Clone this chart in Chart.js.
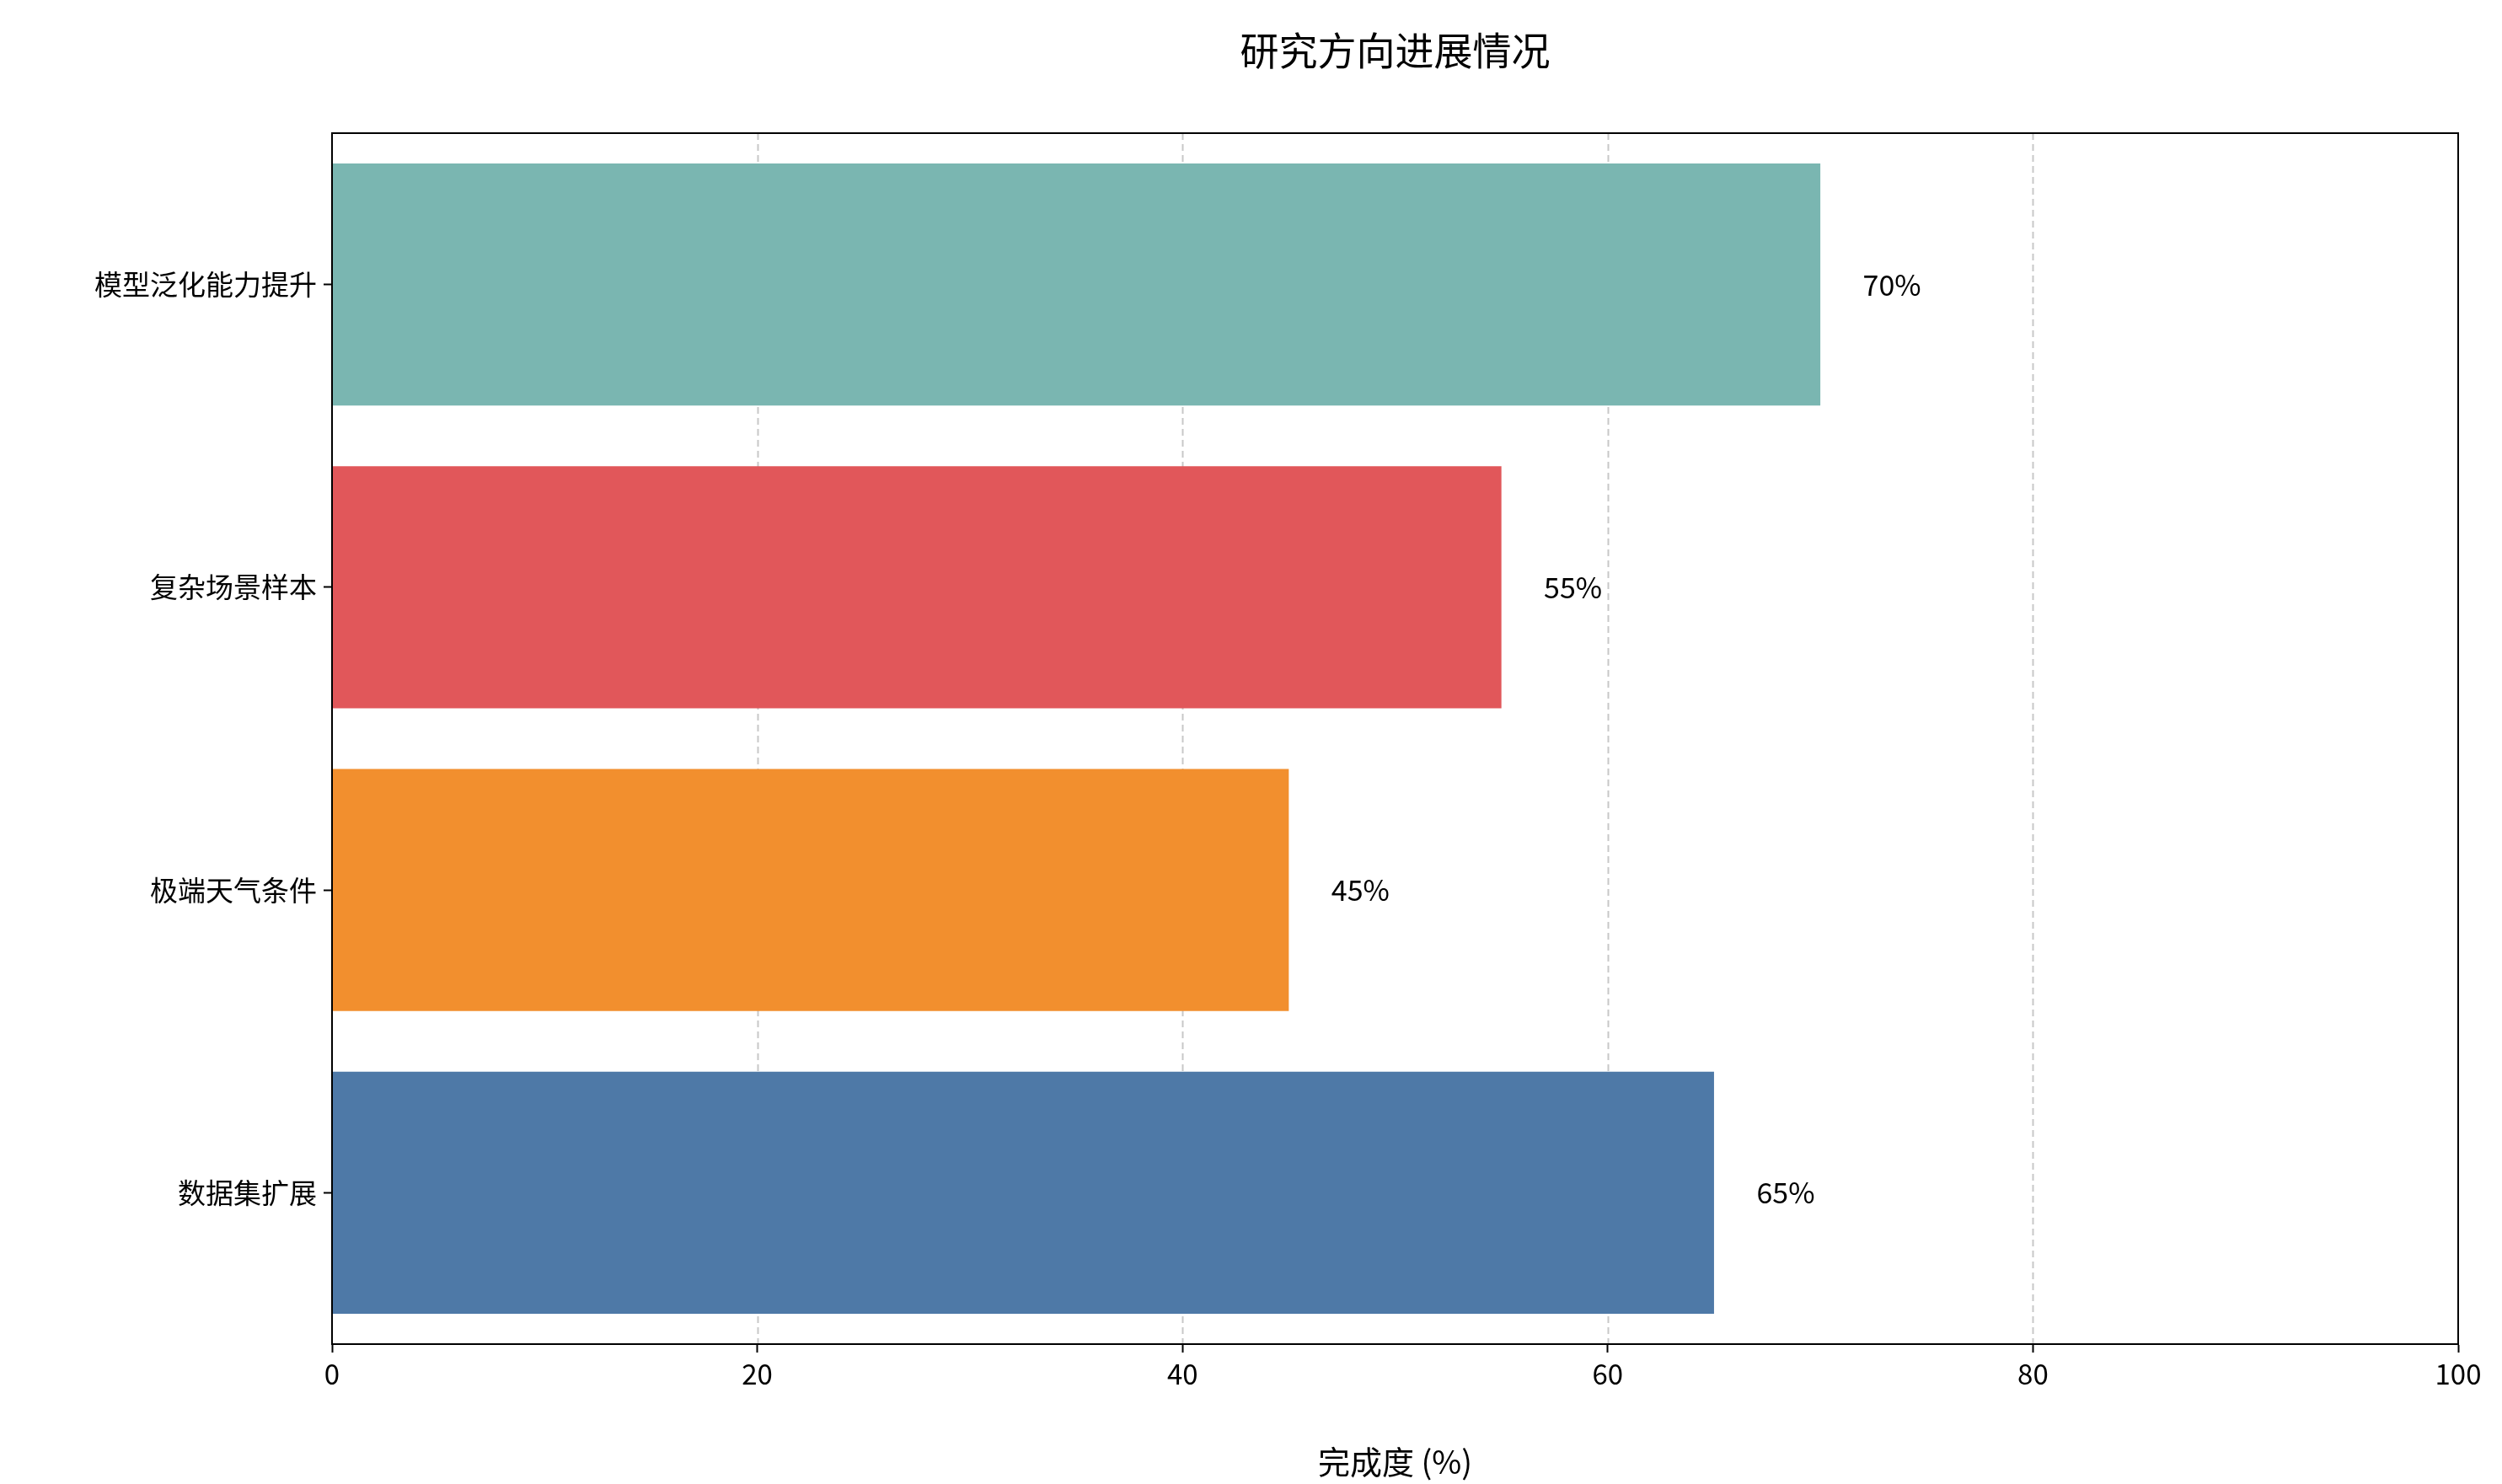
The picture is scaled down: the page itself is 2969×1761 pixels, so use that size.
<!DOCTYPE html>
<html>
<head>
<meta charset="utf-8">
<script src="https://cdn.jsdelivr.net/npm/chart.js@4/dist/chart.umd.min.js"></script>
<style>
  html, body { margin: 0; padding: 0; background: #fff; }
  #wrap { width: 2969px; height: 1761px; }
</style>
</head>
<body>
<div id="wrap"><canvas id="chart" width="2969" height="1761"></canvas></div>
<script>
'use strict';

// ---- Data (top to bottom) ----
const categories = ['模型泛化能力提升', '复杂场景样本', '极端天气条件', '数据集扩展'];
const progress   = [70, 55, 45, 65];
const barColors  = ['#7ab6b1', '#e1575a', '#f28f2e', '#4e79a7'];
const xTicks     = [0, 20, 40, 60, 80, 100];
const chartTitle = '研究方向进展情况';

const FONT = "'Noto Sans CJK SC', 'Noto Sans', sans-serif";

// title, dashed vertical grid, bar value labels, frame
const extras = {
  id: 'extras',
  beforeDatasetsDraw(chart) {
    const { ctx, chartArea, scales } = chart;
    ctx.save();
    ctx.strokeStyle = '#c8c8c8';
    ctx.lineWidth = 2;
    ctx.setLineDash([8, 5]);
    xTicks.slice(1, -1).forEach(v => {
      const x = Math.round(scales.x.getPixelForValue(v)) + 0.5;
      ctx.beginPath();
      ctx.moveTo(x, chartArea.top);
      ctx.lineTo(x, chartArea.bottom);
      ctx.stroke();
    });
    ctx.restore();
  },
  afterDatasetsDraw(chart) {
    const { ctx, scales, chartArea: a } = chart;
    ctx.save();
    ctx.fillStyle = '#000';
    ctx.font = `34px ${FONT}`;
    ctx.textBaseline = 'middle';
    progress.forEach((v, i) => {
      ctx.fillText(v + '%', scales.x.getPixelForValue(v + 2), scales.y.getPixelForValue(i));
    });
    ctx.font = `46px ${FONT}`;
    ctx.textAlign = 'center';
    ctx.fillText(chartTitle, (a.left + a.right) / 2, 60);
    ctx.strokeStyle = '#000';
    ctx.lineWidth = 2;
    ctx.strokeRect(a.left, a.top, a.right - a.left, a.bottom - a.top);
    ctx.restore();
  }
};

new Chart(document.getElementById('chart'), {
  type: 'bar',
  data: {
    labels: categories,
    datasets: [{
      data: progress,
      backgroundColor: barColors,
      borderWidth: 0,
      categoryPercentage: 1,
      barPercentage: 0.8,
    }]
  },
  options: {
    indexAxis: 'y',
    responsive: false,
    animation: false,
    devicePixelRatio: 1,
    layout: { padding: { left: 0, right: 52, top: 158, bottom: 0 } },
    plugins: {
      legend: { display: false },
      tooltip: { enabled: false },
    },
    scales: {
      x: {
        min: 0, max: 100,
        afterBuildTicks: s => { s.ticks = xTicks.map(v => ({ value: v })); },
        afterFit: s => { s.height = 166; },
        grid: { drawOnChartArea: false, tickColor: '#000', tickLength: 10, tickWidth: 2 },
        border: { color: '#000', width: 2 },
        ticks: { color: '#000', font: { family: FONT, size: 33 }, padding: 6 },
        title: { display: true, text: '完成度 (%)', color: '#000', font: { family: FONT, size: 38 }, padding: { top: 6 } },
      },
      y: {
        offset: true,
        afterFit: s => { s.width = 394; },
        grid: { offset: false, drawOnChartArea: false, tickColor: '#000', tickLength: 10, tickWidth: 2 },
        border: { color: '#000', width: 2 },
        ticks: { color: '#000', font: { family: FONT, size: 33 }, padding: 8 },
      }
    }
  },
  plugins: [extras]
});
</script>
</body>
</html>
